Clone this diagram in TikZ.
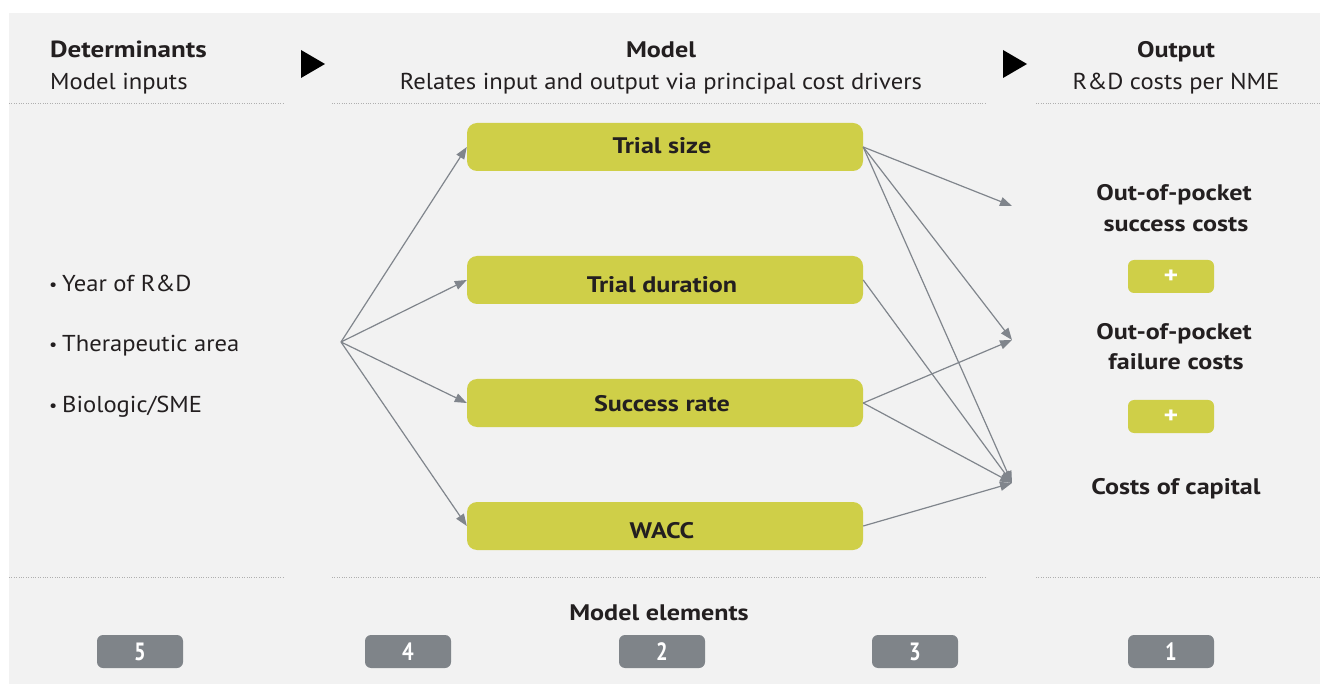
\documentclass[tikz,border=0pt]{standalone}
\usepackage{fontspec}
\setmainfont{PT Sans}[FakeStretch=1.07]
\newfontfamily\boldf{PT Sans}[FakeStretch=1.16]
\newfontfamily\numf{PT Sans}[FakeStretch=0.82]
\usetikzlibrary{arrows.meta}
\definecolor{bg}{HTML}{F2F2F2}
\definecolor{olive}{RGB}{207,207,72}
\definecolor{badgegray}{RGB}{127,132,137}
\definecolor{arr}{RGB}{128,133,140}
\definecolor{ink}{HTML}{231F20}
\definecolor{dotgray}{RGB}{175,175,175}
\newcommand{\bul}{\makebox[13pt][l]{\fontsize{17}{17}\selectfont\raisebox{1.5pt}{•}}}
\tikzset{
  box/.style={fill=olive, rounded corners=10pt, minimum width=396pt, minimum height=48pt, inner sep=0pt},
  boxtxt/.style={inner sep=0pt, anchor=base, text=ink, font=\boldf\bfseries\fontsize{22.5}{26}\selectfont},
  badgebox/.style={fill=badgegray, rounded corners=6pt, minimum width=86pt, minimum height=33pt, inner sep=0pt,
    text=white, font=\numf\bfseries\fontsize{25}{26}\selectfont},
  plusbox/.style={fill=olive, rounded corners=6pt, minimum width=86pt, minimum height=33pt, inner sep=0pt,
    text=white, font=\boldf\bfseries\fontsize{24}{26}\selectfont},
  con/.style={draw=arr, line width=1.2pt, -{Triangle[length=12pt,width=9pt]}},
  dotline/.style={draw=dotgray, line width=0.8pt, dash pattern=on 0.8pt off 1.6pt},
  headb/.style={inner sep=0pt, text=ink, font=\boldf\bfseries\fontsize{22.5}{26}\selectfont},
  headr/.style={inner sep=0pt, text=ink, font=\fontsize{23}{26}\selectfont},
  outtxt/.style={inner sep=0pt, text=ink, align=center, font=\boldf\bfseries\fontsize{22.5}{30}\selectfont},
}
\begin{document}
\begin{tikzpicture}[x=1pt,y=-1pt]
\useasboundingbox (0,0) rectangle (1320,684);
\fill[bg] (9,13) rectangle (1320,684);

% headers
\node[headb, anchor=base west] (h1) at (50,58) {\fontsize{23.3}{26}\selectfont Determinants};
\node[headr, anchor=base west] (h1s) at (50,90) {Model inputs};
\node[headb, anchor=base] (h2) at (661,58) {Model};
\node[headr, anchor=base] (h2s) at (661,90) {Relates input and output via principal cost drivers};
\node[headb, anchor=base] (h3) at (1176,58) {Output};
\node[headr, anchor=base] (h3s) at (1176,90) {R\&D costs per NME};
\fill[black] (301,50) -- (325,64) -- (301,78) -- cycle;
\fill[black] (1003,50) -- (1027,64) -- (1003,78) -- cycle;

% dotted separators
\draw[dotline] (9,103) -- (283,103);
\draw[dotline] (332,103) -- (986,103);
\draw[dotline] (1036,103) -- (1320,103);
\draw[dotline] (9,577) -- (283,577);
\draw[dotline] (332,577) -- (986,577);
\draw[dotline] (1036,577) -- (1320,577);

% inputs
\node[headr, anchor=base west] (b1) at (49,292) {\bul Year of R\&D};
\node[headr, anchor=base west] (b2) at (49,352) {\bul Therapeutic area};
\node[headr, anchor=base west] (b3) at (49,413) {\bul Biologic/SME};

% model boxes
\node[box] (ts) at (665,147) {};
\node[box] (td) at (665,280) {};
\node[box] (sr) at (665,403) {};
\node[box] (wa) at (665,526) {};
\node[boxtxt] (tsl) at (662,154) {Trial size};
\node[boxtxt] (tdl) at (662,293) {Trial duration};
\node[boxtxt] (srl) at (662,411) {Success rate};
\node[boxtxt] (wal) at (662,538) {WACC};

% outputs
\node[outtxt, anchor=base] (o1t) at (1174,201) {Out-of-pocket};
\node[outtxt, anchor=base] (o1b) at (1176,232) {success costs};
\node[plusbox] (p1) at (1171,276.5) {+};
\node[outtxt, anchor=base] (o2t) at (1174,340) {Out-of-pocket};
\node[outtxt, anchor=base] (o2b) at (1176,370) {failure costs};
\node[plusbox] (p2) at (1171,416.5) {+};
\node[outtxt, anchor=base] (o3) at (1176,494) {Costs of capital};

% connectors
\coordinate (src) at (341,342);
\coordinate (t1) at (1012,206);
\coordinate (t2) at (1012,340);
\coordinate (t3) at (1012,483);
\draw[con] (src) -- (ts.west);
\draw[con] (src) -- (td.west);
\draw[con] (src) -- (sr.west);
\draw[con] (src) -- (wa.west);
\draw[con] (ts.east) -- (t1);
\draw[con] (ts.east) -- (t2);
\draw[con] (ts.east) -- (t3);
\draw[con] (td.east) -- (t3);
\draw[con] (sr.east) -- (t2);
\draw[con] (sr.east) -- (t3);
\draw[con] (wa.east) -- (t3);

% bottom
\node[headb, anchor=base] (me) at (659,620) {Model elements};
\node[badgebox] (n5) at (140,651.5) {5};
\node[badgebox] (n4) at (408,651.5) {4};
\node[badgebox] (n2) at (662,651.5) {2};
\node[badgebox] (n3) at (915,651.5) {3};
\node[badgebox] (n1) at (1171,651.5) {1};
\end{tikzpicture}
\end{document}
